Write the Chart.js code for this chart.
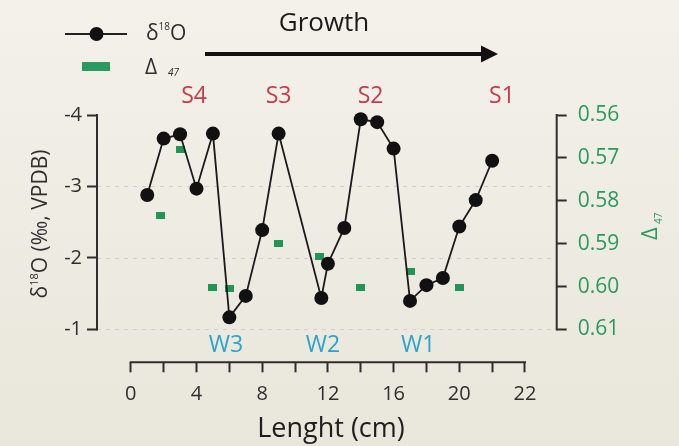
<!DOCTYPE html>
<html>
<head>
<meta charset="utf-8">
<script src="https://cdn.jsdelivr.net/npm/chart.js@4.4.1/dist/chart.umd.min.js"></script>
<style>
  html, body { margin: 0; padding: 0; background: #efece3; }
  #wrap { width: 679px; height: 446px; position: relative; }
</style>
</head>
<body>
<div id="wrap"><canvas id="c"></canvas></div>
<script>
// ---- data ----
const xTickValues = [0, 2, 4, 6, 8, 10, 12, 14, 16, 18, 20, 22, 24];
const xTickLabels = ['0', '', '4', '', '8', '', '12', '', '16', '', '20', '', '22'];
const leftTickValues = [-4, -3, -2, -1];
const rightTickValues = [0.56, 0.57, 0.58, 0.59, 0.60, 0.61];
const gridValues = [-3, -2, -1];

const d18OLength = [1, 2, 3, 4, 5, 6, 7, 8, 9, 11.6, 12, 13, 14, 15, 16, 17, 18, 19, 20, 21, 22];
const d18OValues = [-2.88, -3.67, -3.73, -2.97, -3.74, -1.17, -1.47, -2.39, -3.74, -1.44, -1.92, -2.42, -3.94, -3.90, -3.53, -1.40, -1.62, -1.72, -2.44, -2.81, -3.36];

const d47Length = [1.8, 3, 5, 6, 9, 11.5, 14, 17, 20];
const d47Values = [0.5834, 0.5680, 0.6001, 0.6004, 0.5899, 0.5930, 0.6002, 0.5964, 0.6002];

const summerLabels = ['S4', 'S3', 'S2', 'S1'];
const summerPos = [3.85, 9.0, 14.6, 22.6];
const winterLabels = ['W3', 'W2', 'W1'];
const winterPos = [5.8, 11.7, 17.5];

const FONT = "'Open Sans', 'Noto Sans', sans-serif";
const DARK = '#2e2e2e';
const GREEN = '#2a9a5c';
const GREEN_MARK = '#1f9656';
const RED = '#c8394c';
const BLUE = '#2ba3cb';

// green marker: small horizontal rectangle
const sq = document.createElement('canvas');
sq.width = 9; sq.height = 7;
{ const c = sq.getContext('2d'); c.fillStyle = GREEN_MARK; c.fillRect(0, 0, 9, 7); }

const decor = {
  id: 'decor',
  beforeDraw(chart) {
    const { ctx, width, height } = chart;
    ctx.save();
    ctx.globalCompositeOperation = 'destination-over';
    const g = ctx.createLinearGradient(0, 0, 0, height);
    g.addColorStop(0, '#f3f1ea');
    g.addColorStop(1, '#e9e6db');
    ctx.fillStyle = g;
    ctx.fillRect(0, 0, width, height);
    ctx.restore();
  },
  beforeDatasetsDraw(chart) {
    const { ctx, chartArea: a, scales } = chart;
    const x = scales.x, y = scales.y, y2 = scales.y2;
    ctx.save();
    // dashed grid lines
    ctx.strokeStyle = '#d8cdc6';
    ctx.lineWidth = 1;
    ctx.setLineDash([4, 5]);
    gridValues.forEach(v => {
      const py = Math.round(y.getPixelForValue(v)) + 0.5;
      ctx.beginPath(); ctx.moveTo(a.left, py); ctx.lineTo(a.right, py); ctx.stroke();
    });
    ctx.setLineDash([]);
    // axis lines
    ctx.strokeStyle = DARK;
    ctx.lineWidth = 2;
    ctx.beginPath();
    ctx.moveTo(a.left, y.getPixelForValue(leftTickValues[0]) - 1);
    ctx.lineTo(a.left, y.getPixelForValue(leftTickValues[leftTickValues.length - 1]) + 1);
    ctx.stroke();
    ctx.beginPath();
    ctx.moveTo(a.right, y2.getPixelForValue(rightTickValues[0]) - 1);
    ctx.lineTo(a.right, y2.getPixelForValue(rightTickValues[rightTickValues.length - 1]) + 1);
    ctx.stroke();
    ctx.beginPath();
    ctx.moveTo(x.getPixelForValue(xTickValues[0]) - 1, a.bottom);
    ctx.lineTo(x.getPixelForValue(xTickValues[xTickValues.length - 1]) + 1, a.bottom);
    ctx.stroke();
    ctx.restore();
  },
  afterDraw(chart) {
    const { ctx, chartArea: a, scales } = chart;
    const x = scales.x;
    ctx.save();
    ctx.textAlign = 'center';
    ctx.textBaseline = 'middle';
    // season labels
    ctx.font = `23px ${FONT}`;
    ctx.fillStyle = RED;
    summerLabels.forEach((t, i) => ctx.fillText(t, x.getPixelForValue(summerPos[i]), 96));
    ctx.fillStyle = BLUE;
    winterLabels.forEach((t, i) => ctx.fillText(t, x.getPixelForValue(winterPos[i]), 345));

    // growth arrow
    ctx.fillStyle = '#1a1a1a';
    ctx.font = `26px ${FONT}`;
    ctx.fillText('Growth', 324, 24);
    ctx.strokeStyle = '#111';
    ctx.lineWidth = 4;
    ctx.beginPath(); ctx.moveTo(205, 54); ctx.lineTo(486, 54); ctx.stroke();
    ctx.beginPath(); ctx.moveTo(481, 45.5); ctx.lineTo(498, 54); ctx.lineTo(481, 62.5); ctx.closePath();
    ctx.fillStyle = '#111'; ctx.fill();

    // legend
    ctx.strokeStyle = '#222';
    ctx.lineWidth = 2;
    ctx.beginPath(); ctx.moveTo(65, 34); ctx.lineTo(127, 34); ctx.stroke();
    ctx.beginPath(); ctx.arc(96.5, 34, 7, 0, Math.PI * 2); ctx.fillStyle = '#111'; ctx.fill();
    ctx.fillStyle = '#2a9a5e';
    ctx.fillRect(82, 62, 28, 9);
    ctx.fillStyle = DARK;
    ctx.textAlign = 'left';
    ctx.textBaseline = 'alphabetic';
    ctx.font = `21px ${FONT}`;
    ctx.fillText('δ', 146, 40);
    let w = ctx.measureText('δ').width;
    ctx.font = `10px ${FONT}`;
    ctx.fillText('18', 146 + w, 30);
    let w2 = ctx.measureText('18').width;
    ctx.font = `21px ${FONT}`;
    ctx.fillText('O', 146 + w + w2, 40);
    ctx.fillText('Δ', 145, 74);
    ctx.font = `italic 10px ${FONT}`;
    ctx.fillText('47', 168, 76);

    // left axis title (rotated)
    ctx.save();
    ctx.translate(47, 224);
    ctx.rotate(-Math.PI / 2);
    ctx.fillStyle = DARK;
    const big = `21px ${FONT}`, small = `11px ${FONT}`;
    ctx.font = big; const wd = ctx.measureText('δ').width;
    ctx.font = small; const w18 = ctx.measureText('18').width;
    ctx.font = big; const wr = ctx.measureText('O (‰, VPDB)').width;
    const tot = wd + w18 + wr;
    let sx = -tot / 2;
    ctx.font = big; ctx.fillText('δ', sx, 0); sx += wd;
    ctx.font = small; ctx.fillText('18', sx, -9); sx += w18;
    ctx.font = big; ctx.fillText('O (‰, VPDB)', sx, 0);
    ctx.restore();

    // right axis title (rotated)
    ctx.save();
    ctx.translate(657, 228);
    ctx.rotate(-Math.PI / 2);
    ctx.fillStyle = GREEN;
    ctx.font = `22px ${FONT}`;
    ctx.fillText('Δ', -12, 0);
    ctx.font = `10px ${FONT}`;
    ctx.fillText('47', 4, 5);
    ctx.restore();

    // x axis title
    ctx.fillStyle = '#1e1e1e';
    ctx.textAlign = 'center';
    ctx.textBaseline = 'alphabetic';
    ctx.font = `27px ${FONT}`;
    ctx.fillText('Lenght (cm)', 331, 437);
    ctx.restore();
  }
};

const chart = new Chart(document.getElementById('c'), {
  type: 'line',
  data: {
    datasets: [
      {
        label: 'δ18O',
        data: d18OLength.map((v, i) => ({ x: v, y: d18OValues[i] })),
        xAxisID: 'x', yAxisID: 'y',
        borderColor: '#1a1a1a', borderWidth: 1.8,
        pointRadius: 7, pointHoverRadius: 7,
        pointBackgroundColor: '#111', pointBorderColor: '#111', pointBorderWidth: 0,
        tension: 0, order: 1, clip: false
      },
      {
        label: 'Δ47',
        data: d47Length.map((v, i) => ({ x: v, y: d47Values[i] })),
        xAxisID: 'x', yAxisID: 'y2',
        showLine: false,
        pointStyle: sq, pointRadius: 5,
        backgroundColor: GREEN_MARK, borderColor: GREEN_MARK,
        order: 2, clip: false
      }
    ]
  },
  options: {
    responsive: true,
    maintainAspectRatio: false,
    animation: false,
    events: [],
    layout: { padding: { top: 115, left: 0, right: 0, bottom: 0 } },
    plugins: { legend: { display: false }, tooltip: { enabled: false } },
    scales: {
      x: {
        type: 'linear', position: 'bottom',
        min: -2.058, max: 25.93,
        afterBuildTicks: s => { s.ticks = xTickValues.map(v => ({ value: v })); },
        afterFit: s => { s.height = 83.7; },
        border: { display: false },
        grid: { drawOnChartArea: false, drawTicks: true, tickLength: 10, tickColor: DARK, tickWidth: 2 },
        ticks: {
          autoSkip: false, maxRotation: 0, padding: 10,
          color: DARK, font: { family: FONT, size: 20 },
          callback: (v, i) => xTickLabels[i]
        }
      },
      y: {
        type: 'linear', position: 'left', reverse: true,
        min: -4, max: -0.541,
        afterBuildTicks: s => { s.ticks = leftTickValues.map(v => ({ value: v })); },
        afterFit: s => { s.width = 97; },
        border: { display: false },
        grid: { drawOnChartArea: false, drawTicks: true, tickLength: 10, tickColor: DARK, tickWidth: 2 },
        ticks: {
          padding: 5, color: DARK, font: { family: FONT, size: 20 },
          callback: v => String(v)
        }
      },
      y2: {
        type: 'linear', position: 'right', reverse: true,
        min: 0.56, max: 0.61765,
        afterBuildTicks: s => { s.ticks = rightTickValues.map(v => ({ value: v })); },
        afterFit: s => { s.width = 122.3; },
        border: { display: false },
        grid: { drawOnChartArea: false, drawTicks: true, tickLength: 10, tickColor: DARK, tickWidth: 2 },
        ticks: {
          padding: 11, color: GREEN, font: { family: FONT, size: 21 },
          callback: v => v.toFixed(2)
        }
      }
    }
  },
  plugins: [decor]
});
</script>
</body>
</html>
